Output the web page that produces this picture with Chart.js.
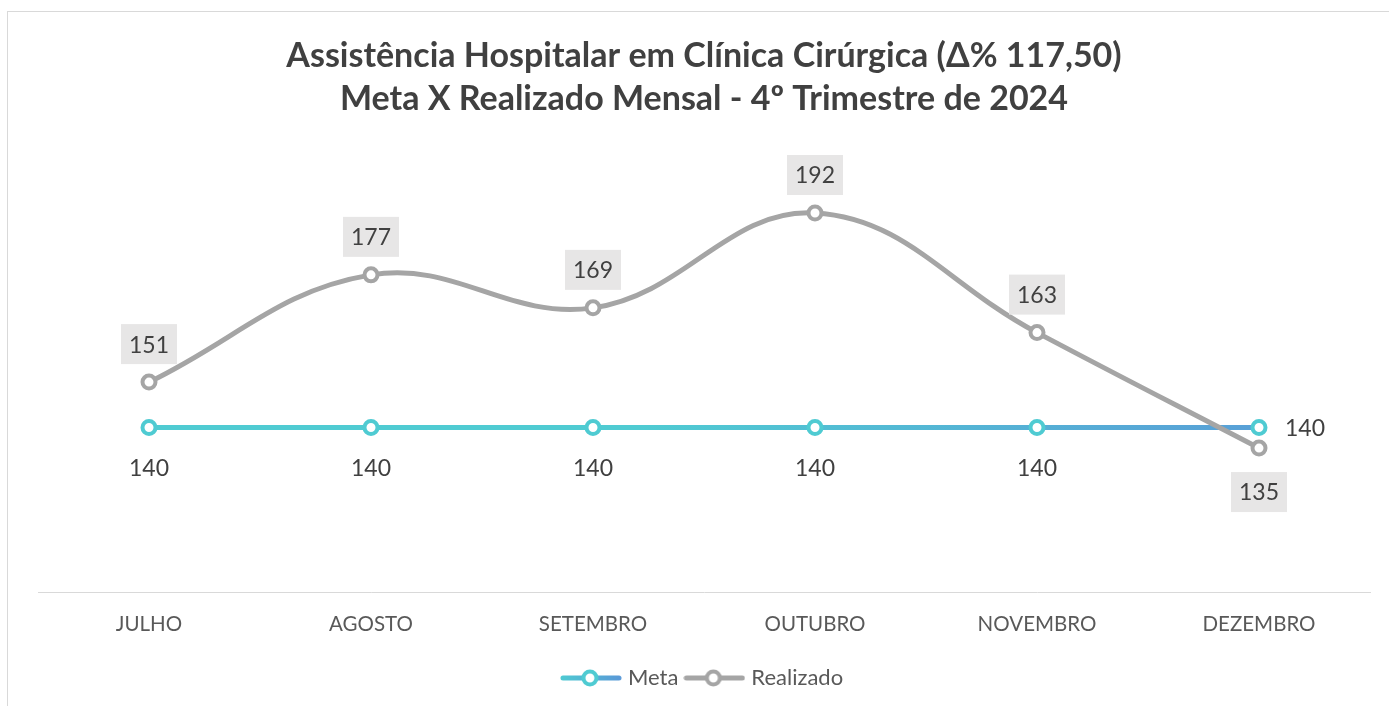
<!DOCTYPE html>
<html lang="pt-BR">
<head>
<meta charset="UTF-8">
<title>Assistência Hospitalar em Clínica Cirúrgica</title>
<script src="https://cdn.jsdelivr.net/npm/chart.js"></script>
<style>
  html, body { margin: 0; padding: 0; background: #fff; }
  #frame { position: absolute; left: 7px; top: 11px; right: 0; bottom: 0;
           border-left: 1px solid #d9d9d9; border-top: 1px solid #d9d9d9; }
  canvas { position: absolute; left: 0; top: 0; }
</style>
</head>
<body>
<div id="frame"></div>
<canvas id="chart" width="1389" height="706"></canvas>
<script>
const months = ['JULHO', 'AGOSTO', 'SETEMBRO', 'OUTUBRO', 'NOVEMBRO', 'DEZEMBRO'];
const meta = [140, 140, 140, 140, 140, 140];
const realizado = [151, 177, 169, 192, 163, 135];
const titleLines = [
    'Assistência Hospitalar em Clínica Cirúrgica (Δ% 117,50)',
    'Meta X Realizado Mensal - 4º Trimestre de 2024'
];

const TEAL = '#4fcbd2';
const BLUE = '#5a98d8';
const GRAY = '#a5a5a5';

// gradient for the Meta line, teal on the left fading to blue on the right
function metaGradient(ctx) {
    const area = ctx.chart.chartArea;
    if (!area) return TEAL;
    const g = ctx.chart.ctx.createLinearGradient(area.left, 0, area.right, 0);
    g.addColorStop(0, TEAL);
    g.addColorStop(0.45, TEAL);
    g.addColorStop(1, BLUE);
    return g;
}

// legend icon: short line with a ring in the middle
function legendIcon(c1, c2, ring) {
    const cv = document.createElement('canvas');
    cv.width = 62;
    cv.height = 20;
    const g = cv.getContext('2d');
    const grad = g.createLinearGradient(0, 0, 62, 0);
    grad.addColorStop(0, c1);
    grad.addColorStop(1, c2);
    g.strokeStyle = grad;
    g.lineWidth = 5;
    g.lineCap = 'round';
    g.beginPath();
    g.moveTo(3, 10);
    g.lineTo(59, 10);
    g.stroke();
    g.beginPath();
    g.arc(30, 10, 6.5, 0, Math.PI * 2);
    g.fillStyle = '#fff';
    g.fill();
    g.lineWidth = 4;
    g.strokeStyle = ring;
    g.stroke();
    return cv;
}
const icons = [legendIcon(TEAL, BLUE, TEAL), legendIcon(GRAY, GRAY, GRAY)];

const valueLabels = {
    id: 'valueLabels',
    afterDatasetsDraw(chart) {
        const ctx = chart.ctx;
        ctx.save();
        ctx.font = '23px Lato';
        ctx.textBaseline = 'middle';
        chart.data.datasets.forEach((ds, di) => {
            const m = chart.getDatasetMeta(di);
            m.data.forEach((pt, i) => {
                const txt = String(ds.data[i]);
                const last = i === ds.data.length - 1;
                const w = ctx.measureText(txt).width;
                let x = pt.x, y = pt.y;
                ctx.textAlign = 'center';
                if (ds.label === 'Realizado') {
                    y += last ? 44 : -38;
                    ctx.fillStyle = '#e7e6e6';
                    ctx.fillRect(x - w / 2 - 8, y - 20, w + 16, 40);
                } else if (last) {
                    x += 26;
                    ctx.textAlign = 'left';
                } else {
                    y += 40;
                }
                ctx.fillStyle = '#404040';
                ctx.fillText(txt, x, y + 1);
            });
        });
        ctx.restore();
    }
};

const ctx = document.getElementById('chart').getContext('2d');
new Chart(ctx, {
    type: 'line',
    data: {
        labels: months,
        datasets: [{
            label: 'Meta',
            data: meta,
            order: 1,
            borderColor: metaGradient,
            borderWidth: 5,
            tension: 0,
            pointRadius: 6.5,
            pointBorderWidth: 4,
            pointBorderColor: TEAL,
            pointBackgroundColor: '#fff'
        }, {
            label: 'Realizado',
            data: realizado,
            order: 0,
            borderColor: GRAY,
            borderWidth: 5,
            tension: 0.4,
            pointRadius: 6.5,
            pointBorderWidth: 4,
            pointBorderColor: GRAY,
            pointBackgroundColor: '#fff'
        }]
    },
    options: {
        responsive: false,
        animation: false,
        devicePixelRatio: 1,
        layout: { padding: { left: 38, right: 19, top: 0, bottom: 7 } },
        plugins: {
            tooltip: { enabled: false },
            title: {
                display: true,
                text: titleLines,
                color: '#404040',
                font: { family: 'Lato', size: 34, weight: 'bold', lineHeight: 1.265 },
                padding: { top: 35, bottom: 59 }
            },
            legend: {
                position: 'bottom',
                labels: {
                    usePointStyle: true,
                    pointStyleWidth: 52,
                    boxHeight: 19,
                    color: '#595959',
                    font: { family: 'Lato', size: 22 },
                    padding: 10,
                    generateLabels(chart) {
                        const items = Chart.defaults.plugins.legend.labels.generateLabels(chart);
                        items.sort((a, b) => a.datasetIndex - b.datasetIndex);
                        items.forEach(it => { it.pointStyle = icons[it.datasetIndex]; });
                        return items;
                    }
                }
            }
        },
        scales: {
            x: {
                offset: true,
                grid: { display: false, drawTicks: false },
                border: { display: true, color: '#d9d9d9', width: 1 },
                ticks: { color: '#595959', font: { family: 'Lato', size: 20.5 }, padding: 20 }
            },
            y: {
                display: false,
                min: 100,
                max: 200
            }
        }
    },
    plugins: [valueLabels]
});
</script>
</body>
</html>
